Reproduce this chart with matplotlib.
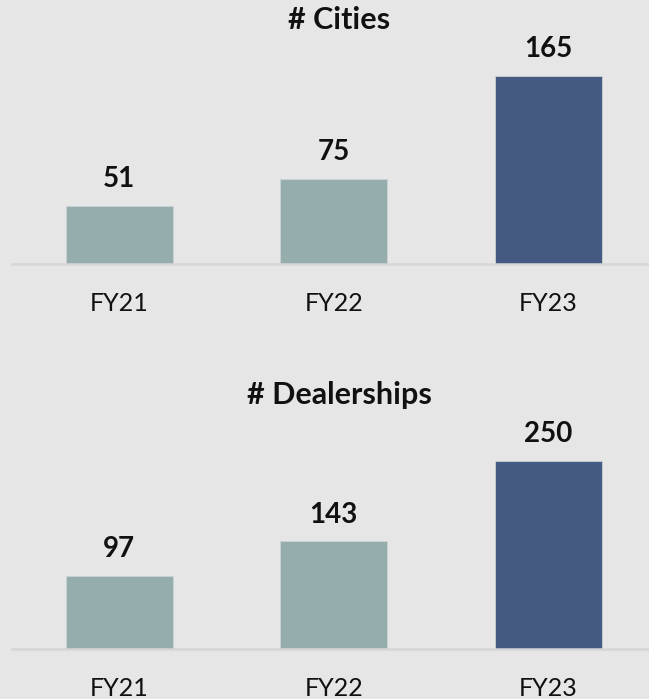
import numpy as np
import matplotlib
matplotlib.use("Agg")
import matplotlib.pyplot as plt

############### DATA ###############

years = ["FY21", "FY22", "FY23"]
cities = [51, 75, 165]
dealerships = [97, 143, 250]
bar_colors = ["#95adad", "#95adad", "#455a82"]

####################################

plt.rcParams["font.family"] = ["Lato", "DejaVu Sans"]

W, H = 649, 699
fig = plt.figure(figsize=(W / 100, H / 100), dpi=100)
fig.patch.set_facecolor("#e6e6e6")


def px_axes(left, bottom, width, height):
    # position in pixels from bottom-left
    return fig.add_axes([left / W, bottom / H, width / W, height / H])


def draw_panel(ax, values, ymax, title, title_y):
    x = np.arange(len(years))
    ax.bar(x, values, width=0.5, color=bar_colors, edgecolor="#c9d3d3",
           linewidth=0.6, zorder=2)
    ax.set_xlim(-0.5, 2.5)
    ax.set_ylim(0, ymax)
    ax.set_facecolor("none")
    for s in ["top", "right", "left"]:
        ax.spines[s].set_visible(False)
    ax.spines["bottom"].set_color("#d6d6d6")
    ax.spines["bottom"].set_linewidth(1.8)
    ax.set_yticks([])
    ax.set_xticks(x)
    ax.set_xticklabels(years, fontsize=18, color="#111111")
    ax.tick_params(axis="x", length=0, pad=20)
    for xi, v in zip(x, values):
        ax.annotate(str(v), (xi, v), xytext=(0, 13.5), textcoords="offset points",
                    ha="center", va="baseline", fontsize=20, fontweight="bold",
                    color="#111111")
    fig.text(339 / W, title_y / H, title, ha="center", va="center",
             fontsize=22, fontweight="bold", color="#111111")


ax1 = px_axes(12, 435, 643.5, 180 * 1.14)
draw_panel(ax1, cities, 180, "# Cities", 679)

ax2 = px_axes(12, 50, 643.5, 270 * 0.752)
draw_panel(ax2, dealerships, 270, "# Dealerships", 304)

fig.savefig("out.png", dpi=100, facecolor=fig.get_facecolor())
